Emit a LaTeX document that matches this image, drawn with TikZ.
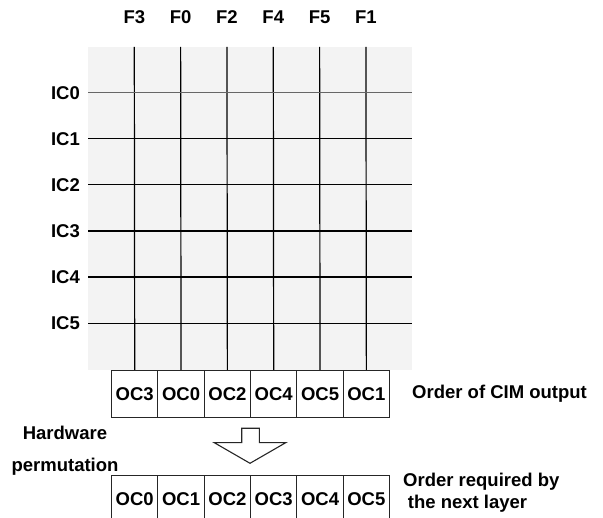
\documentclass[tikz,border=0pt]{standalone}
\usepackage{fontspec}
\setmainfont{Liberation Sans}
\begin{document}
\begin{tikzpicture}[x=1pt,y=-1pt,
  lbl/.style={font=\fontsize{18.5}{21.6}\selectfont\bfseries, inner sep=0pt},
  ocbox/.style={draw=black!85, line width=1.1pt, minimum width=46.33pt, minimum height=46.7pt, inner sep=0pt, font=\fontsize{18.5}{21.6}\selectfont\bfseries, anchor=north west},
  gridline/.style={line width=1.2pt, draw=black},
  blockarrow/.style={draw=black!85, line width=1.1pt, fill=white, line join=miter}]
\useasboundingbox (0,0) rectangle (603,518);
% grid background
\fill[fill={rgb,255:red,243;green,243;blue,243}] (88,47) rectangle (412.3,370);
% output boxes
\foreach \n [count=\i from 0] in {3,0,2,4,5,1} {
  \node[ocbox] (a\i) at ({111+46.33*\i},370) {OC\n};
}
\foreach \n [count=\i from 0] in {0,1,2,3,4,5} {
  \node[ocbox] (b\i) at ({111+46.33*\i},475) {OC\n};
}
% column lines and labels
\foreach \n [count=\i from 0] in {3,0,2,4,5,1} {
  \coordinate (t\i) at ({134.3+46.33*\i},47);
  \node[lbl] (f\i) at ({134.3+46.33*\i},17) {F\n};
  \draw[gridline] (t\i) -- (a\i.north);
}
% row lines and labels
\foreach \j in {0,...,5} {
  \coordinate (l\j) at (88,{92.7+46.1*\j});
  \coordinate (r\j) at (412.3,{92.7+46.1*\j});
  \node[lbl, anchor=east] (ic\j) at (80,{92.7+46.1*\j}) {IC\j};
}
\draw[gridline, draw=black!60] (l0) -- (r0);
\foreach \j in {1,...,5} {
  \draw[gridline] (l\j) -- (r\j);
}
% block arrow
\draw[blockarrow] (241.7,428.3) -- (259.3,428.3) -- (259.3,442.7) -- (285.7,442.7)
  -- (250,463.3) -- (214.3,442.7) -- (241.7,442.7) -- cycle;
% texts
\node[lbl, align=center, font=\fontsize{18.5}{31.7}\selectfont\bfseries] (hw) at (65,451) {Hardware\\permutation};
\node[lbl, anchor=west] (cim) at (412,394) {Order of CIM output};
\node[lbl, anchor=west, align=left] (req) at (403,492.5) {Order required by\\\hspace*{4.7pt}the next layer};
\end{tikzpicture}
\end{document}
